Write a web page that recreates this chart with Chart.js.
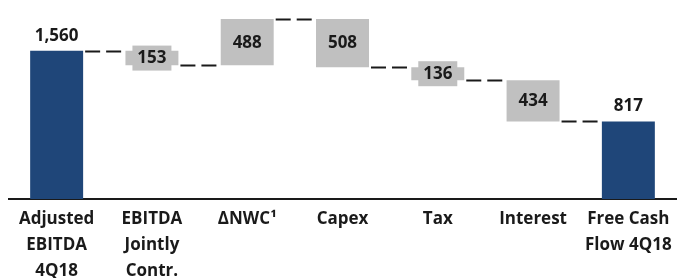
<!DOCTYPE html>
<html>
<head>
<meta charset="utf-8">
<script src="https://cdn.jsdelivr.net/npm/chart.js@4.4.1/dist/chart.umd.min.js"></script>
<style>
  html, body { margin: 0; padding: 0; background: #fff; }
  #wrap { width: 682px; height: 278px; }
</style>
</head>
<body>
<div id="wrap"><canvas id="fcfChart" width="682" height="278"></canvas></div>
<script>
// ===== Free cash flow bridge (waterfall) =====
const categories = [['Adjusted', 'EBITDA', '4Q18'], ['EBITDA', 'Jointly', 'Contr.'], 'ΔNWC¹', 'Capex', 'Tax', 'Interest', ['Free Cash', 'Flow 4Q18']];
const changes = [1560, -153, 488, -508, -136, -434, 817];
const isTotal = [true, false, false, false, false, false, true];

const NAVY = '#1F4679';
const GREY = '#C0C0C0';
const INK = '#1a1a1a';
const FONT = "'Open Sans', 'DejaVu Sans', sans-serif";

// floating ranges from running total
let running = 0;
const ranges = changes.map((v, i) => {
  if (isTotal[i]) { running = v; return [0, v]; }
  const start = running;
  running += v;
  return [start, running];
});
const levels = ranges.map(r => r[1]);

const fmt = n => Math.abs(n).toLocaleString('en-US');

const waterfallExtras = {
  id: 'waterfallExtras',
  afterDatasetsDraw(chart) {
    const ctx = chart.ctx;
    const meta = chart.getDatasetMeta(0);
    const y = chart.scales.y;
    ctx.save();

    // dashed connectors
    ctx.strokeStyle = INK;
    ctx.lineWidth = 2;
    ctx.setLineDash([15, 6]);
    for (let i = 0; i < meta.data.length - 1; i++) {
      const a = meta.data[i], b = meta.data[i + 1];
      const py = Math.round(y.getPixelForValue(levels[i])) + 0.5;
      ctx.beginPath();
      ctx.moveTo(a.x + a.width / 2 + 2, py);
      ctx.lineTo(b.x - b.width / 2 - 3, py);
      ctx.stroke();
    }
    ctx.setLineDash([]);

    // value labels
    ctx.font = 'bold 17px ' + FONT;
    ctx.textAlign = 'center';
    ctx.textBaseline = 'middle';
    meta.data.forEach((bar, i) => {
      const txt = fmt(changes[i]);
      if (isTotal[i]) {
        ctx.fillStyle = INK;
        ctx.fillText(txt, bar.x, y.getPixelForValue(ranges[i][1]) - 15);
      } else {
        const top = y.getPixelForValue(Math.max(...ranges[i]));
        const bot = y.getPixelForValue(Math.min(...ranges[i]));
        const mid = (top + bot) / 2;
        ctx.fillStyle = GREY;
        ctx.fillRect(bar.x - 19.5, mid - 12.5, 39, 25);
        ctx.fillStyle = INK;
        ctx.fillText(txt, bar.x, mid + 0.5);
      }
    });
    ctx.restore();
  }
};

new Chart(document.getElementById('fcfChart'), {
  type: 'bar',
  data: {
    labels: categories,
    datasets: [{
      data: ranges,
      backgroundColor: isTotal.map(t => t ? NAVY : GREY),
      borderWidth: 0,
      borderSkipped: false,
      categoryPercentage: 1,
      barPercentage: 0.556
    }]
  },
  options: {
    responsive: false,
    animation: false,
    layout: { padding: { left: 9, right: 6, top: 0, bottom: 0 } },
    plugins: { legend: { display: false }, tooltip: { enabled: false } },
    scales: {
      x: {
        grid: { display: false, drawTicks: false },
        border: { display: true, color: INK, width: 2 },
        ticks: {
          color: INK,
          padding: 7,
          maxRotation: 0,
          autoSkip: false,
          font: { family: FONT, size: 17, weight: 'bold', lineHeight: 1.53 }
        },
        afterFit: s => { s.height = 79; }
      },
      y: {
        display: false,
        min: 0,
        max: 2095
      }
    }
  },
  plugins: [waterfallExtras]
});
</script>
</body>
</html>
